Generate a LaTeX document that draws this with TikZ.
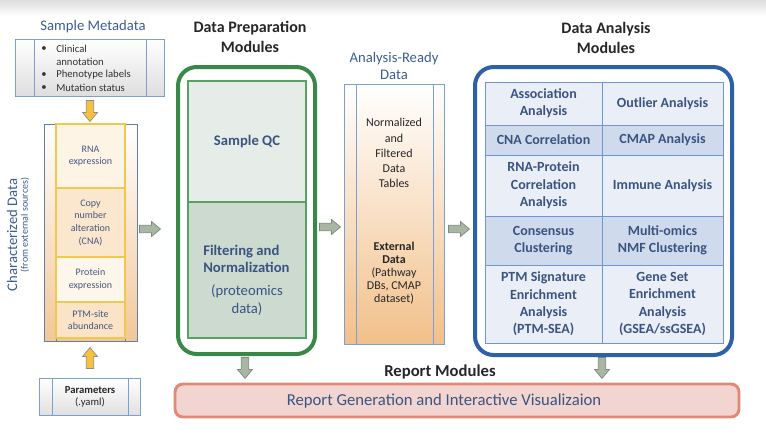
\documentclass[tikz,border=0pt]{standalone}
\usepackage{fontspec}
\setmainfont{Carlito}
\usetikzlibrary{calc}
\definecolor{ttlblue}{RGB}{60,92,150}
\definecolor{txtblue}{RGB}{58,84,130}
\definecolor{bxblue}{RGB}{125,158,210}
\definecolor{gold}{RGB}{246,194,62}
\definecolor{goldline}{RGB}{240,200,80}
\definecolor{orng}{RGB}{243,199,152}
\definecolor{dorng}{RGB}{242,192,138}
\definecolor{grn}{RGB}{58,136,72}
\definecolor{grnA}{RGB}{230,237,233}
\definecolor{grnB}{RGB}{204,218,208}
\definecolor{grnline}{RGB}{90,160,100}
\definecolor{anblue}{RGB}{46,96,168}
\definecolor{tabA}{RGB}{233,238,247}
\definecolor{tabB}{RGB}{207,218,236}
\definecolor{tabline}{RGB}{110,150,210}
\definecolor{repfill}{RGB}{242,213,208}
\definecolor{repline}{RGB}{226,136,118}
\definecolor{arrfill}{RGB}{168,182,162}
\definecolor{arrline}{RGB}{125,135,125}
\definecolor{celltxt}{RGB}{70,88,128}
\definecolor{cA}{RGB}{253,244,230}
\definecolor{cB}{RGB}{251,231,205}
\definecolor{cC}{RGB}{253,246,234}
\definecolor{cD}{RGB}{250,227,198}
\newcommand\bx[7]{\node[#6, minimum width={(#4-#2)*0.75pt}, minimum height={(#5-#3)*0.75pt}] (#1) at ({(#2+#4)/2},{(#3+#5)/2}) {#7};}
% block arrow: name, x, y, angle, style
\newcommand\barrow[5]{\coordinate (#1) at (#2,#3);
  \path[#5, shift={(#2,#3)}, rotate=#4] (-10.5,-3.7) -- (1.5,-3.7) -- (1.5,-7.5) -- (10.5,0) -- (1.5,7.5) -- (1.5,3.7) -- (-10.5,3.7) -- cycle;}
\tikzset{
  box/.style={inner sep=0pt, outer sep=0pt, align=center},
  ttl/.style={text=ttlblue, font=\fontsize{11}{12.5}\selectfont, align=center},
  hdr/.style={font=\bfseries\fontsize{12}{15}\selectfont, text=black!85, align=center},
  tcell/.style={box, draw=tabline, line width=0.6pt, font=\bfseries\fontsize{10.5}{13}\selectfont, text=txtblue},
  ccell/.style={box, draw=goldline, line width=0.8pt, font=\fontsize{7.5}{9.5}\selectfont, text=celltxt},
  bul/.style={anchor=west, inner sep=0pt, font=\fontsize{8}{9.5}\selectfont, text=black!80},
  garrow/.style={draw=arrline, fill=arrfill, line width=0.5pt, line join=miter},
  yarrow/.style={draw=black!45, fill=gold, line width=0.5pt, line join=miter},
}
\begin{document}
\begin{tikzpicture}[x=0.75pt,y=-0.75pt]
\useasboundingbox (0,0) rectangle (766,440);
\bx{band}{0}{0}{766}{16}{box, top color=black!13, bottom color=white}{}
% ---------- left column
\node[ttl] (metattl) at (93,27) {Sample Metadata};
\bx{meta}{15}{39}{164}{96}{box, draw=bxblue, line width=0.6pt, top color=white, bottom color=black!13}{}
\draw[bxblue, line width=0.6pt] (34,39) -- (34,96) (146,39) -- (146,96);
\node[bul] (b1) at (41,49) {•};
\node[bul] (t1) at (56,49) {Clinical};
\node[bul] (t1b) at (56,62) {annotation};
\node[bul] (b2) at (41,75) {•};
\node[bul] (t2) at (56,75) {Phenotype labels};
\node[bul] (b3) at (41,88) {•};
\node[bul] (t3) at (56,88) {Mutation status};
\barrow{ya1}{90}{111}{-90}{yarrow}
\bx{chard}{44}{124}{137}{341}{box, draw=bxblue!80!black, line width=0.6pt, top color=white, bottom color=orng}{}
\draw[bxblue!80!black, line width=0.6pt] (56,124) -- (56,341) (125,124) -- (125,341);
\bx{rna}{56}{124}{125}{188}{ccell, fill=cA}{RNA\\expression}
\bx{cna}{56}{188}{125}{257}{ccell, fill=cB}{Copy\\number\\alteration\\(CNA)}
\bx{prot}{56}{257}{125}{302}{ccell, fill=cC}{Protein\\expression}
\bx{ptm}{56}{302}{125}{338}{ccell, fill=cD}{PTM-site\\abundance}
\node[rotate=90, text=ttlblue, font=\fontsize{11}{13}\selectfont] (cdl) at (12,235) {Characterized Data};
\node[rotate=90, text=ttlblue, font=\fontsize{7.5}{9}\selectfont] (cdl2) at (25,225) {(from external sources)};
\barrow{ya2}{90}{358}{90}{yarrow}
\bx{par}{39}{378}{140}{415}{box, draw=bxblue, line width=0.6pt, top color=white, bottom color=black!12}{}
\draw[bxblue, line width=0.6pt] (52,378) -- (52,415) (128,378) -- (128,415);
\node[font=\fontsize{8}{9.5}\selectfont, text=black!85, align=center] (partxt) at (90,397) {\textbf{Parameters}\\(.yaml)};
% ---------- preparation
\node[hdr] (prepttl) at (250,37) {Data Preparation\\Modules};
\bx{prep}{178}{67}{315}{354}{box, draw=grn, line width=3pt, fill=white, rounded corners=14pt}{}
\bx{qc}{188}{81}{306}{202}{box, draw=grnline, line width=0.8pt, fill=grnA, text=txtblue, font=\bfseries\fontsize{11}{13}\selectfont}{Sample QC}
\bx{filt}{188}{202}{306}{338}{box, draw=grnline, line width=0.8pt, fill=grnB}{}
\node[text=txtblue, font=\bfseries\fontsize{11}{13}\selectfont, align=left, anchor=west, inner sep=0pt] (filtA) at (203,259) {Filtering and\\Normalization};
\node[text=txtblue, font=\fontsize{11}{13}\selectfont, align=center] (filtB) at (247,300) {(proteomics\\data)};
\barrow{ga1}{150}{229}{0}{garrow}
\barrow{ga2}{330}{227}{0}{garrow}
% ---------- data
\node[ttl] (datattl) at (394,66) {Analysis-Ready\\Data};
\bx{data}{344}{84}{444}{344}{box, draw=bxblue, line width=0.6pt, top color=white, middle color=white!55!dorng, bottom color=dorng}{}
\draw[bxblue, line width=0.6pt] (356,84) -- (356,344) (433,84) -- (433,344);
\node[font=\fontsize{9}{11.3}\selectfont, text=black!85, align=center] (dA) at (394,153) {Normalized\\and\\Filtered\\Data\\Tables};
\node[font=\fontsize{9}{9.8}\selectfont, text=black!85, align=center] (dB) at (394,273) {\textbf{External}\\\textbf{Data}\\(Pathway\\DBs, CMAP\\dataset)};
\barrow{ga3}{459}{229}{0}{garrow}
% ---------- analysis
\node[hdr] (anttl) at (606,38) {Data Analysis\\Modules};
\bx{anal}{475}{67}{732}{355}{box, draw=anblue, line width=3pt, fill=white, rounded corners=14pt}{}
\bx{r1a}{485}{82}{602}{125}{tcell, fill=tabA}{Association\\Analysis}
\bx{r1b}{602}{82}{723}{125}{tcell, fill=tabA}{Outlier Analysis}
\bx{r2a}{485}{125}{602}{155}{tcell, fill=tabB}{CNA Correlation}
\bx{r2b}{602}{125}{723}{155}{tcell, fill=tabB}{CMAP Analysis}
\bx{r3a}{485}{155}{602}{216}{tcell, fill=tabA}{RNA-Protein\\Correlation\\Analysis}
\bx{r3b}{602}{155}{723}{216}{tcell, fill=tabA}{Immune Analysis}
\bx{r4a}{485}{216}{602}{265}{tcell, fill=tabB}{Consensus\\Clustering}
\bx{r4b}{602}{216}{723}{265}{tcell, fill=tabB}{Multi-omics\\NMF Clustering}
\bx{r5a}{485}{265}{602}{343}{tcell, fill=tabA}{PTM Signature\\Enrichment\\Analysis\\(PTM-SEA)}
\bx{r5b}{602}{265}{723}{343}{tcell, fill=tabA}{Gene Set\\Enrichment\\Analysis\\(GSEA/ssGSEA)}
% ---------- report
\barrow{ga4}{245}{368}{-90}{garrow}
\barrow{ga5}{602}{368}{-90}{garrow}
\node[font=\bfseries\fontsize{12.5}{14}\selectfont, text=black!85] (repttl) at (440,372) {Report Modules};
\bx{rep}{175}{384}{739}{417}{box, draw=repline, line width=2.2pt, fill=repfill, rounded corners=6pt}{}
\node[text=txtblue, font=\fontsize{12.5}{14}\selectfont] (reptxt) at (444,401) {Report Generation and Interactive Visualizaion};
\end{tikzpicture}
\end{document}
